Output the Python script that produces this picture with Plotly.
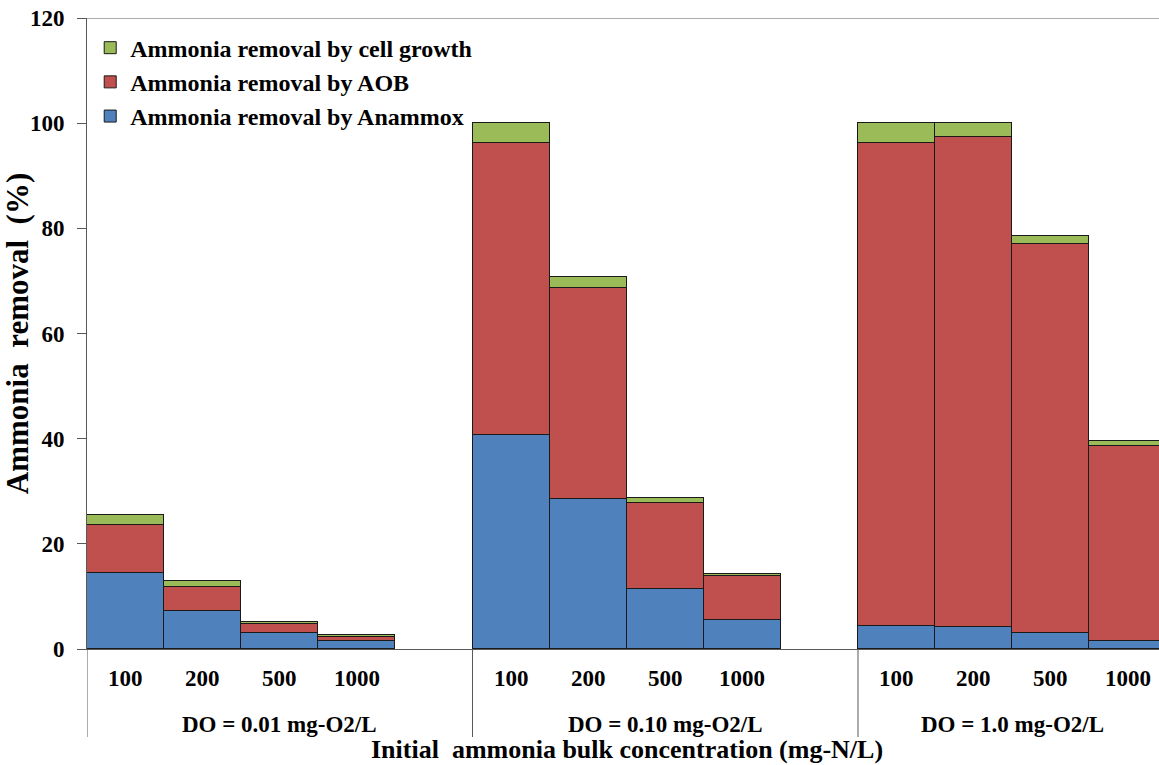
import plotly.graph_objects as go

# ---- data ----
do_groups = ["DO = 0.01 mg-O2/L", "DO = 0.10 mg-O2/L", "DO = 1.0 mg-O2/L"]
concentrations = ["100", "200", "500", "1000"]

anammox = [14.5, 7.3, 3.0, 1.45,
           40.7, 28.5, 11.5, 5.6,
           4.4, 4.1, 3.0, 1.6]
aob = [9.1, 4.55, 1.75, 0.9,
       55.6, 40.1, 16.2, 8.3,
       91.9, 93.3, 74.0, 37.1]
cell_growth = [1.9, 1.05, 0.45, 0.3,
               3.7, 2.2, 1.0, 0.4,
               3.7, 2.6, 1.6, 0.8]

y_ticks = [0, 20, 40, 60, 80, 100, 120]

# ---- layout helpers ----
n = len(concentrations)
slot = n + 1
xpos = [g * slot + i for g in range(len(do_groups)) for i in range(n)]

W, H = 1159, 765
ml, mt, mb, mr = 87, 18, 116, 0
plot_h = H - mt - mb
slot_px = 77.1
x_end = (W - ml) / slot_px - 0.5

FONT = "Liberation Serif"
AX = "#595959"
BLUE, RED, GREEN = "#4F81BD", "#C0504D", "#9BBB59"
EDGE = "#1a1a1a"

fig = go.Figure()
for name, vals, col, rank in [
    ("Ammonia removal by Anammox", anammox, BLUE, 3),
    ("Ammonia removal by AOB", aob, RED, 2),
    ("Ammonia removal by cell growth", cell_growth, GREEN, 1),
]:
    fig.add_trace(go.Bar(
        x=xpos, y=vals, name=name, legendgroup=name, legendrank=rank, width=1,
        marker=dict(color=col, line=dict(color=EDGE, width=1)),
    ))

annotations = []
for x, lab in zip(xpos, concentrations * len(do_groups)):
    annotations.append(dict(x=x, y=0, xref="x", yref="y", text=lab,
                            showarrow=False, yshift=-29, yanchor="middle",
                            font=dict(family=FONT, size=23, color="black", weight="bold")))
group_centers = [2, 7, 11.5]
for xc, lab in zip(group_centers, do_groups):
    annotations.append(dict(x=xc, y=0, xref="x", yref="y", text=lab,
                            showarrow=False, yshift=-75, yanchor="middle",
                            font=dict(family=FONT, size=23, color="black", weight="bold")))
annotations.append(dict(x=6.5, y=0, xref="x", yref="y",
                        text="Initial&nbsp;&nbsp;ammonia bulk concentration (mg-N/L)",
                        showarrow=False, yshift=-100, yanchor="middle",
                        font=dict(family=FONT, size=26, color="black", weight="bold")))

ext = (737 - (H - mb)) / plot_h
shapes = []
for xs in [-0.5, slot - 0.5, 2 * slot - 0.5]:
    shapes.append(dict(type="line", xref="x", yref="paper", x0=xs, x1=xs,
                       y0=0, y1=-ext, line=dict(color=AX, width=1)))
shapes.append(dict(type="line", xref="paper", yref="y", x0=0, x1=1, y0=120, y1=120,
                   line=dict(color=AX, width=1)))

fig.update_layout(
    width=W, height=H,
    margin=dict(l=ml, r=mr, t=mt, b=mb, pad=0),
    barmode="stack", bargap=0,
    plot_bgcolor="white", paper_bgcolor="white",
    showlegend=True,
    legend=dict(x=0.003, xanchor="left", y=0.988, yanchor="top",
                traceorder="grouped", tracegroupgap=0,
                bgcolor="rgba(0,0,0,0)",
                font=dict(family=FONT, size=24, color="black", weight="bold")),
    xaxis=dict(range=[-0.5, x_end], showticklabels=False, ticks="",
               showgrid=False, zeroline=False, showline=True, linecolor=AX, linewidth=1),
    yaxis=dict(range=[0, 120], tickvals=y_ticks, ticks="outside", ticklen=9,
               tickcolor=AX, showgrid=False, zeroline=False, showline=True,
               linecolor=AX, linewidth=1, ticklabelstandoff=8,
               tickfont=dict(family=FONT, size=23, color="black", weight="bold"),
               title=dict(text="Ammonia  removal  (%)", standoff=6,
                          font=dict(family=FONT, size=31, color="black", weight="bold"))),
    annotations=annotations,
    shapes=shapes,
)

fig.write_html("out.html")
